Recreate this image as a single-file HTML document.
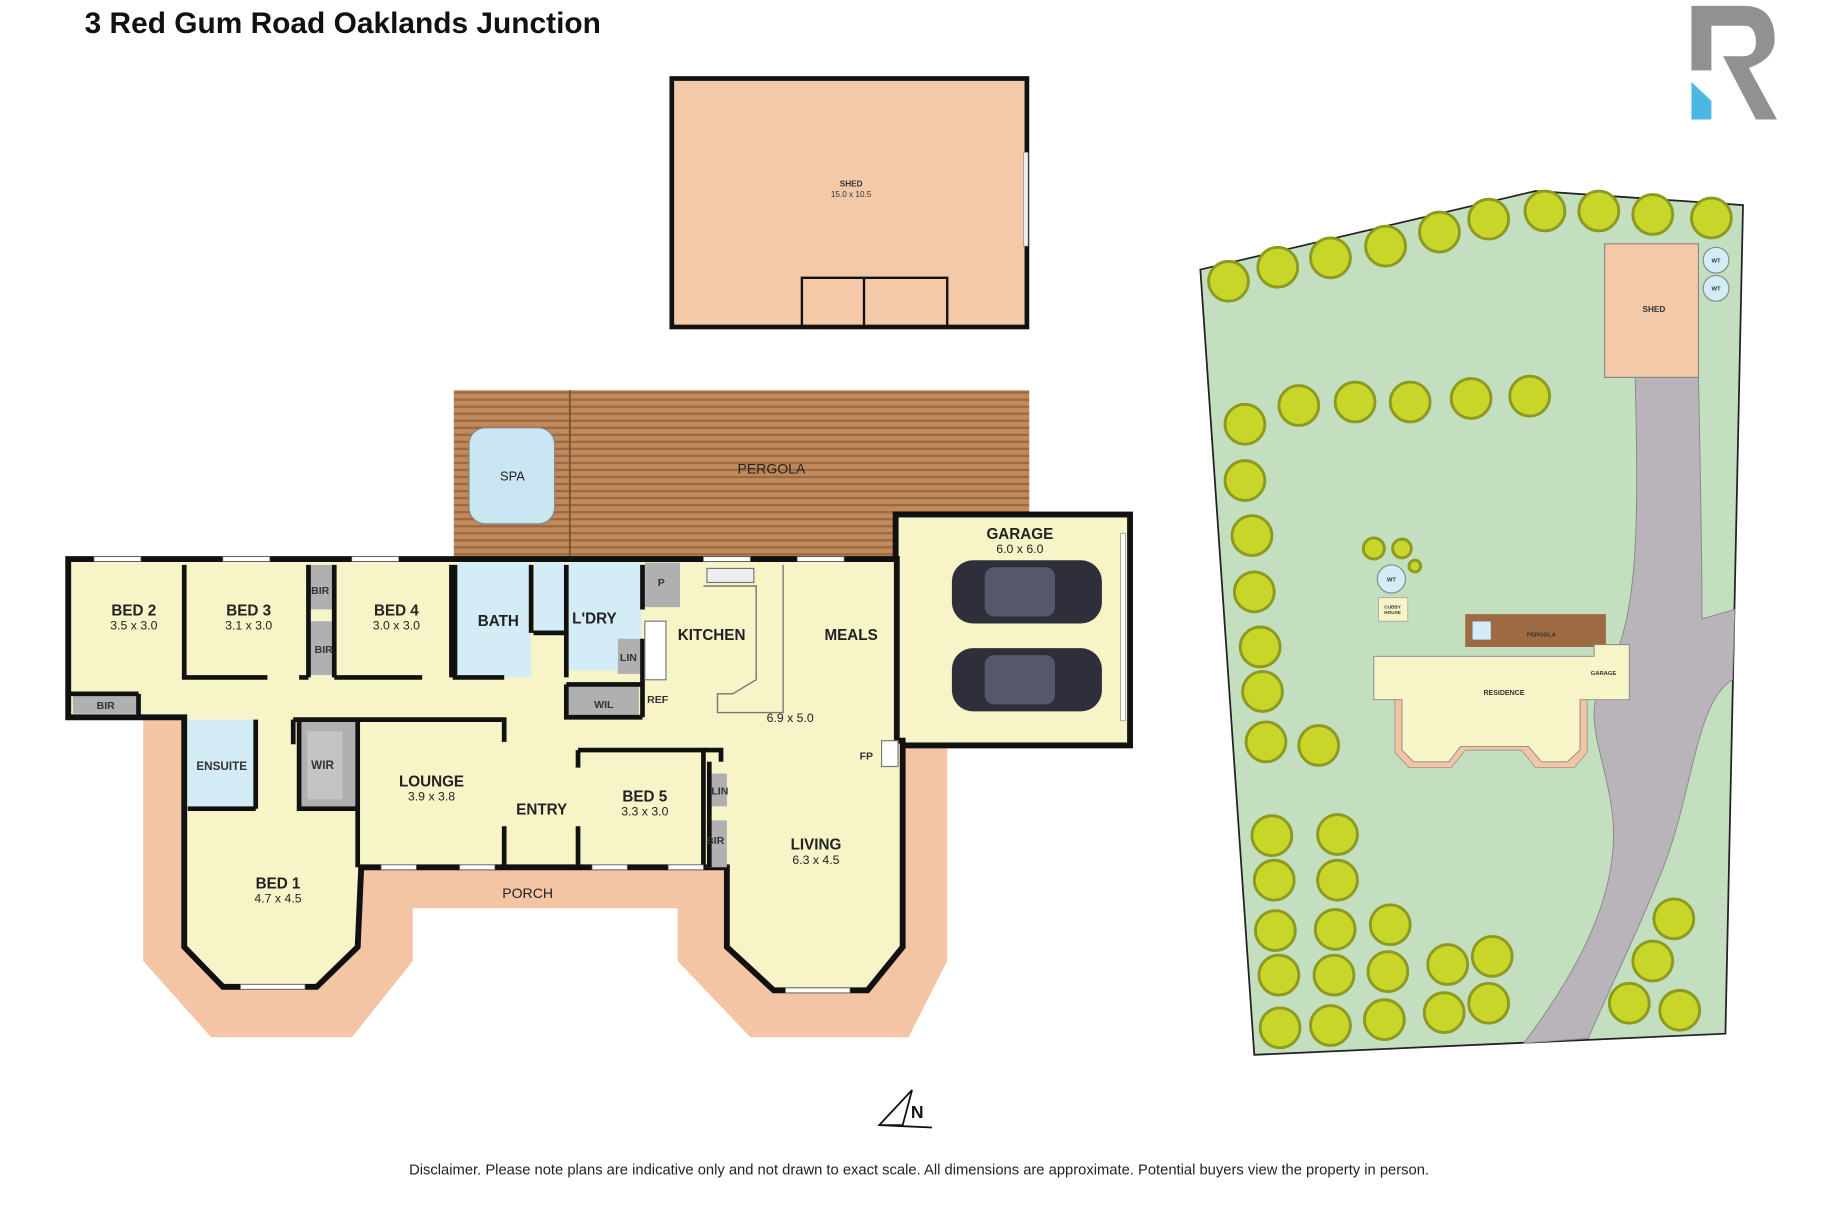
<!DOCTYPE html>
<html><head><meta charset="utf-8"><style>
html,body{margin:0;padding:0;background:#fff;width:1837px;height:1206px;overflow:hidden}
svg{display:block}
text{font-family:"Liberation Sans",sans-serif}
.l{font-size:13px;font-weight:bold;fill:#222;text-anchor:middle}
.d{font-size:10.5px;fill:#222;text-anchor:middle}
.s{font-size:7px;font-weight:bold;fill:#333;text-anchor:middle}
</style></head><body>
<svg width="1837" height="1206" viewBox="0 0 1567 1029" xmlns="http://www.w3.org/2000/svg">
<defs>
<pattern id="deck" width="6" height="6" patternUnits="userSpaceOnUse"><rect width="6" height="6" fill="#c08a5c"/><rect y="4" width="6" height="2" fill="#9c6a42"/></pattern>
</defs>
<text x="72" y="28" style="font-size:25.5px;font-weight:bold;fill:#111">3 Red Gum Road Oaklands Junction</text>
<!-- logo -->
<path d="M1443,5 L1443,60 L1460,60 L1460,22 L1488,22 Q1498,22 1498,36 Q1498,48 1486,48 L1470,48 L1498,102 L1516,102 L1492,58 Q1514,50 1514,34 Q1514,5 1488,5 Z" fill="#8f9193"/>
<path d="M1443,70 L1460,86 L1460,102 L1443,102 Z" fill="#4db7e3"/>
<!-- shed -->
<rect x="573" y="67" width="303" height="212" fill="#f4c9a8" stroke="#111" stroke-width="4"/>
<path d="M684,278 L684,237 L808,237 L808,278 M737,237 L737,278" fill="none" stroke="#111" stroke-width="2"/>
<rect x="873" y="130" width="4" height="80" fill="#eee" stroke="#777" stroke-width="0.5"/>
<text x="726" y="159" class="s">SHED</text><text x="726" y="168" class="s" style="font-weight:normal">15.0 x 10.5</text>
<!-- pergola -->
<rect x="387" y="333" width="491" height="142" fill="url(#deck)"/>
<line x1="486" y1="333" x2="486" y2="475" stroke="#7a5030" stroke-width="1.5"/>
<rect x="400" y="365" width="73" height="82" rx="14" fill="#c9e6f2" stroke="#888" stroke-width="1"/>
<text x="437" y="410" class="d" style="font-size:11px">SPA</text>
<text x="658" y="404" class="d" style="font-size:12px">PERGOLA</text>
<!-- porch / deck pink -->
<path d="M122,612 L122,820 L180,885 L300,885 L352,820 L352,775 L578,775 L578,820 L640,885 L775,885 L808,820 L808,637 L760,637 L760,612 Z" fill="#f3c5a5"/>
<!-- garage -->
<rect x="764" y="439" width="200" height="197" fill="#f7f4c8" stroke="#111" stroke-width="5"/>
<rect x="956" y="455" width="4" height="160" fill="#fff" stroke="#777" stroke-width="0.5"/>
<rect x="812" y="478" width="128" height="54" rx="18" fill="#2e2f3a"/><rect x="840" y="484" width="60" height="42" rx="8" fill="#55576a"/>
<rect x="812" y="553" width="128" height="54" rx="18" fill="#2e2f3a"/><rect x="840" y="559" width="60" height="42" rx="8" fill="#55576a"/>
<text x="870" y="460" class="l">GARAGE</text><text x="870" y="472" class="d">6.0 x 6.0</text>
<!-- house -->
<path d="M58,477 L765,477 L765,632 L770,632 L770,808 L740,845 L660,845 L620,808 L620,740 L308,740 L305,808 L270,842 L190,842 L157,808 L157,612 L58,612 Z" fill="#f7f4c8" stroke="#111" stroke-width="5" stroke-linejoin="miter"/>
<!-- wet areas -->
<rect x="390" y="480" width="63" height="98" fill="#d3ecf6"/>
<rect x="456" y="480" width="27" height="58" fill="#d3ecf6"/>
<rect x="485" y="480" width="62" height="92" fill="#d3ecf6"/>
<rect x="160" y="614" width="58" height="76" fill="#d3ecf6"/>
<!-- grey storage -->
<rect x="263" y="482" width="22" height="38" fill="#b0b0b0"/>
<rect x="263" y="530" width="22" height="46" fill="#b0b0b0"/>
<rect x="62" y="592" width="56" height="17" fill="#b0b0b0"/>
<rect x="255" y="614" width="50" height="76" fill="#b0b0b0"/><rect x="262" y="624" width="30" height="58" fill="#c4c4c4"/>
<rect x="483" y="584" width="62" height="28" fill="#b0b0b0"/>
<rect x="550" y="480" width="30" height="38" fill="#b0b0b0"/>
<rect x="527" y="545" width="20" height="30" fill="#b0b0b0"/>
<rect x="603" y="660" width="17" height="28" fill="#b0b0b0"/>
<rect x="603" y="700" width="17" height="40" fill="#b0b0b0"/>
<!-- internal walls -->
<g stroke="#111" stroke-width="4" fill="none">
<path d="M157,482 L157,578 L228,578 M255,578 L263,578 M263,482 L263,578 M285,482 L285,578 M285,578 L360,578 M385,482 L385,578 M388,482 L388,578 L430,578 M453,482 L453,540 M455,540 L483,540 M483,482 L483,578 M548,482 L548,520 M548,545 L548,612 M483,584 L548,584 M483,584 L483,612 L548,612"/>
<path d="M130,612 L155,612 M218,614 L218,690 M160,690 L218,690 M250,614 L250,635 M250,614 L305,614 L430,614 L430,633 M430,705 L430,740 M305,614 L305,740 M255,614 L255,690 L305,690"/>
<path d="M493,640 L600,640 L600,740 M493,640 L493,655 M493,705 L493,740 M605,650 L605,740"/>
<path d="M118,592 L118,612 M58,592 L118,592"/>
<path d="M600,640 L615,640 L615,650"/>
</g>
<!-- kitchen island -->
<path d="M600,500 L645,500 L645,580 L625,592 L612,592 L612,608 L668,608 L668,482" fill="none" stroke="#777" stroke-width="1.2"/>
<rect x="603" y="485" width="40" height="12" fill="#eee" stroke="#777" stroke-width="1"/>
<rect x="550" y="530" width="18" height="50" fill="#fff" stroke="#777" stroke-width="1"/>
<rect x="752" y="632" width="14" height="22" fill="#fff" stroke="#777" stroke-width="1"/>
<!-- windows -->
<g fill="#fff" stroke="#777" stroke-width="0.6">
<rect x="80" y="475" width="40" height="4"/><rect x="190" y="475" width="40" height="4"/><rect x="300" y="475" width="40" height="4"/>
<rect x="600" y="475" width="40" height="4"/><rect x="680" y="475" width="40" height="4"/>
<rect x="325" y="738" width="30" height="4"/><rect x="392" y="738" width="30" height="4"/><rect x="505" y="738" width="30" height="4"/><rect x="570" y="738" width="30" height="4"/>
<rect x="205" y="840" width="55" height="4"/><rect x="670" y="843" width="55" height="4"/>
</g>
<!-- labels -->
<text x="114" y="525" class="l">BED 2</text><text x="114" y="537" class="d">3.5 x 3.0</text>
<text x="212" y="525" class="l">BED 3</text><text x="212" y="537" class="d">3.1 x 3.0</text>
<text x="338" y="525" class="l">BED 4</text><text x="338" y="537" class="d">3.0 x 3.0</text>
<text x="425" y="534" class="l">BATH</text>
<text x="507" y="532" class="l">L'DRY</text>
<text x="607" y="546" class="l">KITCHEN</text>
<text x="726" y="546" class="l">MEALS</text>
<text x="674" y="616" class="d">6.9 x 5.0</text>
<text x="90" y="605" class="s" style="font-size:9px">BIR</text>
<text x="273" y="507" class="s" style="font-size:9px">BIR</text>
<text x="276" y="557" class="s" style="font-size:9px">BIR</text>
<text x="536" y="564" class="s" style="font-size:9px">LIN</text>
<text x="515" y="604" class="s" style="font-size:9px">WIL</text>
<text x="561" y="600" class="s" style="font-size:9px">REF</text>
<text x="564" y="500" class="s" style="font-size:9px">P</text>
<text x="189" y="657" class="s" style="font-size:10px">ENSUITE</text>
<text x="275" y="656" class="s" style="font-size:10px">WIR</text>
<text x="368" y="671" class="l">LOUNGE</text><text x="368" y="683" class="d">3.9 x 3.8</text>
<text x="462" y="695" class="l">ENTRY</text>
<text x="550" y="684" class="l">BED 5</text><text x="550" y="696" class="d">3.3 x 3.0</text>
<text x="614" y="678" class="s" style="font-size:9px">LIN</text>
<text x="610" y="720" class="s" style="font-size:9px">BIR</text>
<text x="739" y="648" class="s" style="font-size:9px">FP</text>
<text x="696" y="725" class="l">LIVING</text><text x="696" y="737" class="d">6.3 x 4.5</text>
<text x="237" y="758" class="l">BED 1</text><text x="237" y="770" class="d">4.7 x 4.5</text>
<text x="450" y="766" class="d" style="font-size:12px">PORCH</text>
<!-- site plan -->
<path d="M1024,230 L1310,163 L1487,175 L1472,882 L1070,900 Z" fill="#c4dfc0" stroke="#222" stroke-width="1.5"/>
<path d="M1395,322 L1449,322 C1451,420 1452,480 1452,528 L1480,520 L1478,580 C1445,600 1445,680 1415,750 C1395,800 1370,850 1355,886 L1300,890 C1345,830 1385,760 1375,690 C1368,640 1348,610 1370,575 C1398,530 1398,450 1395,322 Z" fill="#b9b4ba" stroke="#888" stroke-width="0.8"/>
<rect x="1369" y="208" width="80" height="114" fill="#f4c9a8" stroke="#888" stroke-width="1"/>
<text x="1411" y="266" class="s">SHED</text>
<circle cx="1464" cy="222" r="11" fill="#d3ecf6" stroke="#888"/><circle cx="1464" cy="246" r="11" fill="#d3ecf6" stroke="#888"/>
<text x="1464" y="224" class="s" style="font-size:5px">WT</text><text x="1464" y="248" class="s" style="font-size:5px">WT</text>
<rect x="1250" y="524" width="120" height="28" fill="#9e6a42"/><rect x="1256" y="530" width="16" height="16" fill="#d3ecf6" stroke="#777" stroke-width="0.5"/>
<text x="1315" y="543" class="s" style="font-size:5px">PERGOLA</text>
<path d="M1190,597 L1190,642 L1202,655 L1238,655 L1250,640 L1298,640 L1310,655 L1343,655 L1354,642 L1354,597 Z" fill="#f3c5a5" stroke="#888" stroke-width="0.6"/>
<path d="M1172,560 L1360,560 L1360,550 L1390,550 L1390,597 L1348,597 L1348,640 L1337,650 L1315,650 L1304,637 L1246,637 L1236,650 L1206,650 L1196,640 L1196,597 L1172,597 Z" fill="#f7f4c8" stroke="#888" stroke-width="0.8"/>
<text x="1283" y="593" class="s" style="font-size:6px">RESIDENCE</text>
<text x="1368" y="576" class="s" style="font-size:5px">GARAGE</text>
<circle cx="1187" cy="494" r="12" fill="#d3ecf6" stroke="#888"/><text x="1187" y="496" class="s" style="font-size:5px">WT</text>
<rect x="1176" y="510" width="25" height="20" fill="#f7f4c8" stroke="#999" stroke-width="0.6"/>
<text x="1188" y="519" class="s" style="font-size:4px">CUBBY</text><text x="1188" y="524" class="s" style="font-size:4px">HOUSE</text>
<g fill="#c8d629" stroke="#8c9a22" stroke-width="2.5">
<circle cx="1048" cy="240" r="17"/><circle cx="1090" cy="228" r="17"/><circle cx="1135" cy="220" r="17"/><circle cx="1182" cy="210" r="17"/><circle cx="1228" cy="198" r="17"/><circle cx="1270" cy="187" r="17"/><circle cx="1318" cy="180" r="17"/><circle cx="1364" cy="180" r="17"/><circle cx="1410" cy="183" r="17"/><circle cx="1460" cy="186" r="17"/>
<circle cx="1062" cy="362" r="17"/><circle cx="1108" cy="346" r="17"/><circle cx="1156" cy="343" r="17"/><circle cx="1203" cy="343" r="17"/><circle cx="1255" cy="340" r="17"/><circle cx="1305" cy="338" r="17"/>
<circle cx="1062" cy="410" r="17"/><circle cx="1068" cy="457" r="17"/><circle cx="1070" cy="505" r="17"/><circle cx="1075" cy="552" r="17"/><circle cx="1077" cy="590" r="17"/><circle cx="1080" cy="633" r="17"/><circle cx="1125" cy="636" r="17"/>
<circle cx="1085" cy="713" r="17"/><circle cx="1141" cy="712" r="17"/><circle cx="1087" cy="751" r="17"/><circle cx="1141" cy="751" r="17"/><circle cx="1088" cy="794" r="17"/><circle cx="1139" cy="793" r="17"/><circle cx="1186" cy="789" r="17"/>
<circle cx="1091" cy="832" r="17"/><circle cx="1138" cy="832" r="17"/><circle cx="1184" cy="829" r="17"/><circle cx="1235" cy="823" r="17"/><circle cx="1273" cy="816" r="17"/>
<circle cx="1092" cy="877" r="17"/><circle cx="1135" cy="875" r="17"/><circle cx="1181" cy="870" r="17"/><circle cx="1232" cy="864" r="17"/><circle cx="1270" cy="856" r="17"/>
<circle cx="1428" cy="784" r="17"/><circle cx="1410" cy="820" r="17"/><circle cx="1390" cy="856" r="17"/><circle cx="1433" cy="862" r="17"/>
<circle cx="1172" cy="468" r="9"/><circle cx="1196" cy="468" r="8"/><circle cx="1207" cy="483" r="5"/>
</g>
<!-- north -->
<path d="M750,960 L778,930 L770,960 Z M750,960 L795,962" fill="none" stroke="#111" stroke-width="1.5"/>
<text x="777" y="954" style="font-size:15px;font-weight:bold;fill:#111">N</text>
<text x="784" y="1002" class="d" style="font-size:12.6px">Disclaimer. Please note plans are indicative only and not drawn to exact scale. All dimensions are approximate. Potential buyers view the property in person.</text>
</svg>
</body></html>
